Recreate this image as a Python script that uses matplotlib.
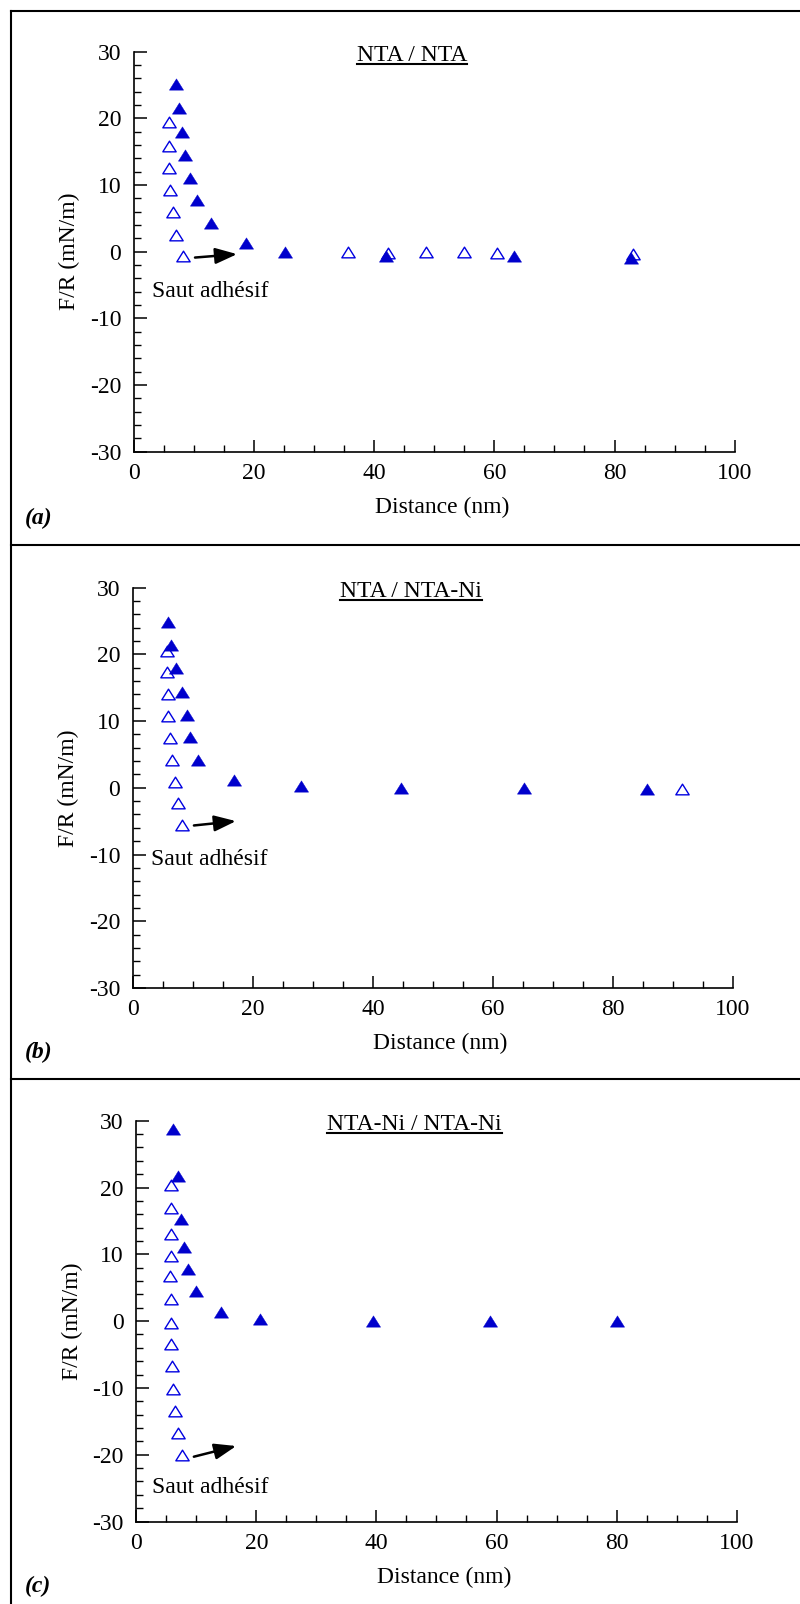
import matplotlib
matplotlib.use("Agg")
import matplotlib.pyplot as plt
from matplotlib.lines import Line2D
from matplotlib.path import Path
from matplotlib.ticker import MultipleLocator

plt.rcParams['font.family'] = ['Liberation Serif', 'DejaVu Serif']
plt.rcParams['axes.unicode_minus'] = False

# panel (a) NTA / NTA
a_fill_x = [6.96, 7.47, 7.98, 8.57, 9.34, 10.6, 12.8, 18.7, 25.1, 42.0, 63.3, 82.8]
a_fill_y = [25.1, 21.6, 18.0, 14.5, 11.05, 7.7, 4.3, 1.3, 0.0, -0.6, -0.7, -0.9]
a_open_x = [5.86, 5.86, 5.86, 6.0, 6.6, 7.0, 8.15, 35.6, 42.3, 48.7, 55.0, 60.5, 83.1]
a_open_y = [19.5, 15.9, 12.6, 9.25, 5.9, 2.5, -0.7, -0.1, -0.15, 0.0, 0.0, -0.25, -0.4]

# panel (b) NTA / NTA-Ni
b_fill_x = [5.95, 6.46, 7.14, 8.24, 9.0, 9.6, 10.8, 16.8, 28.0, 44.7, 65.25, 85.6]
b_fill_y = [24.8, 21.4, 17.9, 14.4, 10.9, 7.55, 4.1, 1.1, 0.33, -0.08, -0.08, -0.19]
b_open_x = [5.78, 5.78, 5.95, 5.95, 6.29, 6.63, 6.97, 7.48, 8.16, 91.5]
b_open_y = [20.56, 17.36, 14.0, 10.7, 7.45, 4.2, 0.9, -2.3, -5.6, -0.2]

# panel (c) NTA-Ni / NTA-Ni
c_fill_x = [6.2, 6.88, 7.4, 8.0, 8.58, 10.0, 14.1, 20.6, 39.4, 59.0, 80.1]
c_fill_y = [28.75, 21.7, 15.3, 11.04, 7.8, 4.5, 1.43, 0.3, 0.08, -0.03, -0.03]
c_open_x = [5.86, 5.86, 5.86, 5.86, 5.69, 5.86, 5.86, 5.86, 5.95, 6.12, 6.46, 6.97, 7.56]
c_open_y = [20.4, 16.96, 13.1, 9.74, 6.73, 3.3, -0.23, -3.5, -6.78, -10.1, -13.5, -16.75, -20.1]

titles = ["NTA / NTA", "NTA / NTA-Ni", "NTA-Ni / NTA-Ni"]
panel_tags = ["(a)", "(b)", "(c)"]

W, H = 800, 1604
fig = plt.figure(figsize=(W / 100, H / 100), dpi=100)

# flat triangle marker, closed so the hollow ones get all three edges
tri = Path([(-1, -0.8), (1, -0.8), (0, 0.8), (-1, -0.8)],
           [Path.MOVETO, Path.LINETO, Path.LINETO, Path.CLOSEPOLY])
blue = "#0000cc"

# axes boxes in pixels: left, right, top, bottom
boxes = [(133.7, 734.7, 51.7, 451.8),
         (132.7, 733.0, 587.5, 988.0),
         (136.2, 736.7, 1120.7, 1521.5)]
panel_tops = [11, 545, 1079]

data = [(a_fill_x, a_fill_y, a_open_x, a_open_y),
        (b_fill_x, b_fill_y, b_open_x, b_open_y),
        (c_fill_x, c_fill_y, c_open_x, c_open_y)]

arrows = [((10.2, -0.87), (17.2, -0.36), (3.0, -5.9)),
          ((10.2, -5.65), (17.2, -5.0), (3.1, -10.8)),
          ((9.6, -20.3), (16.65, -18.7), (2.55, -24.9))]

fs = 17
titles_txt = []
for i in range(3):
    l, r, t, b = boxes[i]
    ax = fig.add_axes([l / W, 1 - b / H, (r - l) / W, (b - t) / H])
    fx, fy, ox, oy = data[i]
    ax.plot(ox, oy, linestyle="none", marker=tri, ms=9.6, mfc="white",
            mec="#0000e0", mew=1.0, clip_on=False)
    ax.plot(fx, fy, linestyle="none", marker=tri, ms=10.2, mfc=blue,
            mec=blue, mew=0.3, clip_on=False)

    ax.set_xlim(0, 100)
    ax.set_ylim(-30, 30)
    ax.xaxis.set_major_locator(MultipleLocator(20))
    ax.xaxis.set_minor_locator(MultipleLocator(5))
    ax.yaxis.set_major_locator(MultipleLocator(10))
    ax.yaxis.set_minor_locator(MultipleLocator(2))
    for s in ["top", "right"]:
        ax.spines[s].set_visible(False)
    for s in ["left", "bottom"]:
        ax.spines[s].set_linewidth(1.2)
    ax.tick_params(which="major", direction="in", length=9, width=1.1,
                   labelsize=fs, pad=8)
    ax.tick_params(which="minor", direction="in", length=5, width=1.0)
    ax.tick_params(axis="y", which="major", pad=9)

    ax.set_xlabel("Distance (nm)", fontsize=fs)
    ax.xaxis.set_label_coords(0.513, -0.112)
    ax.set_ylabel("F/R (mN/m)", fontsize=fs)
    ax.yaxis.set_label_coords(-0.089, 0.5)

    tt = ax.text(0.463, 0.977, titles[i], transform=ax.transAxes, fontsize=fs,
                 ha="center", va="baseline")
    titles_txt.append(tt)

    start, end, lab = arrows[i]
    ax.annotate("", xy=end, xytext=start,
                arrowprops=dict(arrowstyle="-|>,head_length=0.6,head_width=0.22",
                                color="k", lw=1.8, mutation_scale=22,
                                shrinkA=0, shrinkB=0))
    ax.text(lab[0], lab[1], "Saut adhésif", fontsize=fs, ha="left", va="center")

    fig.text(25 / W, 1 - (panel_tops[i] + 507) / H, panel_tags[i], fontsize=fs,
             fontweight="bold", fontstyle="italic", ha="left", va="center")

# frame lines
lw = 1.5
fig.add_artist(Line2D([11 / W, 11 / W], [1 - 11 / H, 0], transform=fig.transFigure,
                      color="k", lw=lw))
for y in panel_tops:
    fig.add_artist(Line2D([11 / W, 1], [1 - y / H, 1 - y / H],
                          transform=fig.transFigure, color="k", lw=lw))

# underline the titles
fig.canvas.draw()
renderer = fig.canvas.get_renderer()
for tt in titles_txt:
    bb = tt.get_window_extent(renderer)
    ax = tt.axes
    base = ax.transAxes.transform((0, 0.977))[1]
    yline = base - 3
    fig.add_artist(Line2D([bb.x0 / W, bb.x1 / W], [yline / H, yline / H],
                          transform=fig.transFigure, color="k", lw=1.5))

fig.savefig("out.png", dpi=100)
